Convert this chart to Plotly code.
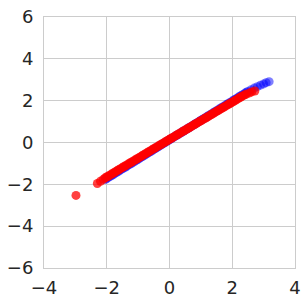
import plotly.graph_objects as go

blue_x = [-2.05, -2.00, -1.95, -1.90, -1.85, -1.80, -1.75, -1.70, -1.65, -1.60,
          -1.55, -1.50, -1.45, -1.40, -1.35, -1.30, -1.25, -1.20, -1.15, -1.10,
          -1.05, -1.00, -0.95, -0.90, -0.85, -0.80, -0.75, -0.70, -0.65, -0.60,
          -0.55, -0.50, -0.45, -0.40, -0.35, -0.30, -0.25, -0.20, -0.15, -0.10,
          -0.05, 0.00, 0.05, 0.10, 0.15, 0.20, 0.25, 0.30, 0.35, 0.40,
          0.45, 0.50, 0.55, 0.60, 0.65, 0.70, 0.75, 0.80, 0.85, 0.90,
          0.95, 1.00, 1.05, 1.10, 1.15, 1.20, 1.25, 1.30, 1.35, 1.40,
          1.45, 1.50, 1.55, 1.60, 1.65, 1.70, 1.75, 1.80, 1.85, 1.90,
          1.95, 2.00, 2.05, 2.10, 2.15, 2.20, 2.25, 2.30, 2.35, 2.40,
          2.45, 2.50, 2.60, 2.70, 2.80, 2.90, 3.00, 3.08, 3.175]
blue_y = [-1.77, -1.72, -1.67, -1.63, -1.58, -1.54, -1.49, -1.44, -1.40, -1.35,
          -1.30, -1.26, -1.21, -1.17, -1.12, -1.07, -1.03, -0.98, -0.93, -0.89,
          -0.84, -0.80, -0.75, -0.70, -0.66, -0.61, -0.56, -0.52, -0.47, -0.43,
          -0.38, -0.33, -0.29, -0.24, -0.19, -0.15, -0.10, -0.05, -0.01, 0.04,
          0.08, 0.13, 0.18, 0.22, 0.27, 0.32, 0.36, 0.41, 0.45, 0.50,
          0.55, 0.59, 0.64, 0.69, 0.73, 0.78, 0.82, 0.87, 0.92, 0.96,
          1.01, 1.06, 1.10, 1.15, 1.19, 1.24, 1.29, 1.33, 1.38, 1.43,
          1.47, 1.52, 1.56, 1.61, 1.66, 1.70, 1.75, 1.80, 1.84, 1.89,
          1.93, 1.98, 2.03, 2.07, 2.12, 2.17, 2.21, 2.26, 2.30, 2.35,
          2.40, 2.44, 2.52, 2.60, 2.67, 2.74, 2.80, 2.86, 2.91]

red_x = [-2.98, -2.30, -2.20, -2.11,
         -2.05, -2.00, -1.95, -1.90, -1.85, -1.80, -1.75, -1.70, -1.65, -1.60,
         -1.55, -1.50, -1.45, -1.40, -1.35, -1.30, -1.25, -1.20, -1.15, -1.10,
         -1.05, -1.00, -0.95, -0.90, -0.85, -0.80, -0.75, -0.70, -0.65, -0.60,
         -0.55, -0.50, -0.45, -0.40, -0.35, -0.30, -0.25, -0.20, -0.15, -0.10,
         -0.05, 0.00, 0.05, 0.10, 0.15, 0.20, 0.25, 0.30, 0.35, 0.40,
         0.45, 0.50, 0.55, 0.60, 0.65, 0.70, 0.75, 0.80, 0.85, 0.90,
         0.95, 1.00, 1.05, 1.10, 1.15, 1.20, 1.25, 1.30, 1.35, 1.40,
         1.45, 1.50, 1.55, 1.60, 1.65, 1.70, 1.75, 1.80, 1.85, 1.90,
         1.95, 2.00, 2.05, 2.10, 2.15, 2.20, 2.25, 2.30, 2.35, 2.40,
         2.45, 2.55, 2.62, 2.72]
red_y = [-2.53, -1.96, -1.85, -1.76,
         -1.69, -1.65, -1.60, -1.56, -1.51, -1.47, -1.42, -1.38, -1.33, -1.29,
         -1.24, -1.20, -1.15, -1.11, -1.06, -1.02, -0.97, -0.93, -0.88, -0.84,
         -0.79, -0.75, -0.70, -0.66, -0.61, -0.57, -0.52, -0.48, -0.43, -0.39,
         -0.34, -0.30, -0.25, -0.21, -0.16, -0.12, -0.07, -0.03, 0.02, 0.06,
         0.11, 0.15, 0.19, 0.24, 0.28, 0.33, 0.37, 0.42, 0.46, 0.51,
         0.55, 0.60, 0.64, 0.68, 0.73, 0.77, 0.82, 0.86, 0.91, 0.95,
         1.00, 1.04, 1.08, 1.13, 1.17, 1.22, 1.26, 1.31, 1.35, 1.40,
         1.44, 1.49, 1.53, 1.57, 1.62, 1.66, 1.71, 1.75, 1.80, 1.84,
         1.89, 1.93, 1.97, 2.02, 2.06, 2.11, 2.15, 2.20, 2.24, 2.28,
         2.31, 2.37, 2.42, 2.46]

x_ticks = [-4, -2, 0, 2, 4]
y_ticks = [-6, -4, -2, 0, 2, 4, 6]

fig = go.Figure()
fig.add_trace(go.Scatter(x=blue_x, y=blue_y, mode="markers",
                         marker=dict(color="rgb(0,0,255)", size=9, opacity=0.5,
                                     line=dict(width=0)),
                         hoverinfo="skip", cliponaxis=False))
fig.add_trace(go.Scatter(x=red_x, y=red_y, mode="markers",
                         marker=dict(color="rgb(255,0,0)", size=9, opacity=0.75,
                                     line=dict(width=0)),
                         hoverinfo="skip", cliponaxis=False))

axis_common = dict(showgrid=True, gridcolor="#cccccc", gridwidth=1,
                   zeroline=False, showline=True, mirror=True,
                   linecolor="#cccccc", linewidth=1,
                   ticks="", automargin=False,
                   tickfont=dict(family="DejaVu Sans", size=18, color="#262626"))
fig.update_layout(
    width=308, height=301,
    margin=dict(l=44, r=13, t=17, b=33, autoexpand=False),
    paper_bgcolor="white", plot_bgcolor="white",
    showlegend=False,
    xaxis=dict(range=[-4, 4], tickvals=x_ticks, ticklabelstandoff=3, **axis_common),
    yaxis=dict(range=[-6, 6], tickvals=y_ticks, ticklabelstandoff=6, **axis_common),
)
fig.write_html("out.html", config={"displayModeBar": False})

# remove the default page margin so the figure sits at the window origin
with open("out.html", "r", encoding="utf-8") as f:
    html = f.read()
html = html.replace("<head>", "<head><style>html,body{margin:0;padding:0;overflow:hidden;}</style>", 1)
with open("out.html", "w", encoding="utf-8") as f:
    f.write(html)
